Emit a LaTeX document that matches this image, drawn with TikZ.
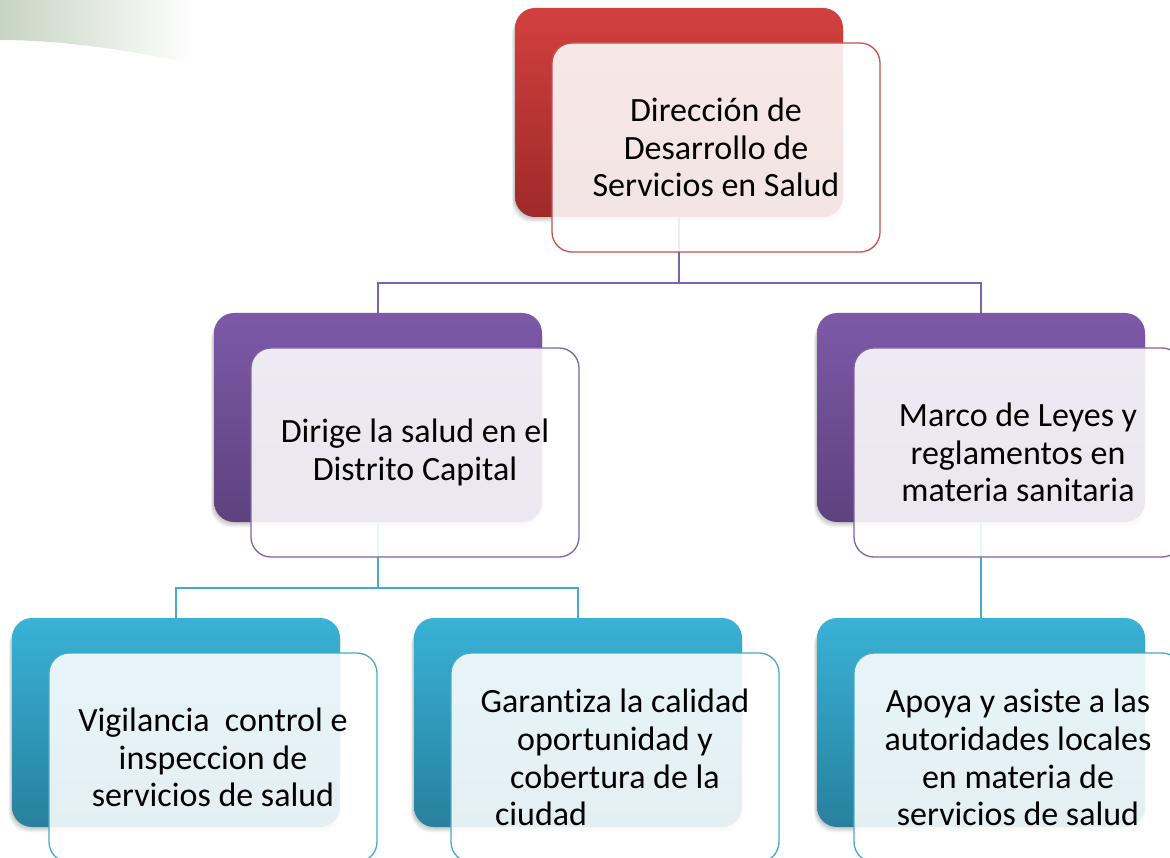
\documentclass[tikz,border=0pt]{standalone}
\usepackage{fontspec}
\setmainfont{Carlito}[Ligatures=NoCommon]
\definecolor{redT}{RGB}{210,64,62}
\definecolor{redB}{RGB}{158,42,42}
\definecolor{redL}{RGB}{200,78,76}
\definecolor{purT}{RGB}{125,89,168}
\definecolor{purB}{RGB}{94,66,126}
\definecolor{purL}{RGB}{128,98,168}
\definecolor{teaT}{RGB}{56,178,214}
\definecolor{teaB}{RGB}{40,128,158}
\definecolor{teaL}{RGB}{72,170,200}
\definecolor{swoosh}{RGB}{198,212,194}
\newcommand\softshadow[2]{%
  \foreach \s in {0,...,5}{%
    \fill[black,opacity=0.035,rounded corners=20pt]
      (#1-164-\s*0.4-1,#2-104.5+6) rectangle (#1+164+\s*0.4-1,#2+104.5+1+\s*0.9);
  }}
\begin{document}
\begin{tikzpicture}[x=1pt,y=-1pt,
  boxsize/.style={minimum width=328pt,minimum height=209pt,inner sep=0pt,rounded corners=20pt},
  backred/.style={boxsize,top color=redT,bottom color=redB},
  backpur/.style={boxsize,top color=purT,bottom color=purB},
  backtea/.style={boxsize,top color=teaT,bottom color=teaB},
  frontbox/.style={boxsize,fill=white,fill opacity=0.88,text opacity=1,line width=1.3pt,
    align=center,font=\fontsize{34}{37.7}\selectfont},
  frontred/.style={frontbox,draw=redL},
  frontpur/.style={frontbox,draw=purL},
  fronttea/.style={frontbox,draw=teaL},
  purline/.style={draw=purL,line width=1.6pt},
  tealine/.style={draw=teaL,line width=1.6pt}]
\useasboundingbox (0,0) rectangle (1170,858);
\fill[white] (0,0) rectangle (1170,858);
% green swoosh
\shade[left color=swoosh,right color=white]
  (0,0) -- (195,0) -- (195,64) .. controls (130,50) and (60,40) .. (0,40) -- cycle;
% shadows
\softshadow{679}{112.5}
\softshadow{378}{417.5}
\softshadow{981}{417.5}
\softshadow{176}{722.5}
\softshadow{578}{722.5}
\softshadow{981}{722.5}
% back boxes
\node[backred] (top) at (679,112.5) {};
\node[backpur] (pl) at (378,417.5) {};
\node[backpur] (pr) at (981,417.5) {};
\node[backtea] (tl) at (176,722.5) {};
\node[backtea] (tm) at (578,722.5) {};
\node[backtea] (tr) at (981,722.5) {};
% connectors
\draw[purline] (top.south) -- ++(0,66) -| (pl.north);
\draw[purline] (top.south) -- ++(0,66) -| (pr.north);
\draw[tealine] (pl.south) -- ++(0,66) -| (tl.north);
\draw[tealine] (pl.south) -- ++(0,66) -| (tm.north);
\draw[tealine] (pr.south) -- (tr.north);
% front boxes
\node[frontred] (ftop) at (716,147.5) {Dirección de\\Desarrollo de\\Servicios en Salud};
\node[frontpur] (fpl) at (415,452.5) {Dirige la salud en el\\Distrito Capital};
\node[frontpur] (fpr) at (1018,452.5) {Marco de Leyes y\\reglamentos en\\materia sanitaria};
\node[fronttea] (ftl) at (213,757.5) {Vigilancia\ \ control e\\inspeccion de\\servicios de salud};
\node[fronttea] (ftm) at (615,757.5) {Garantiza la calidad\\oportunidad y\\cobertura de la\\\makebox[240pt][l]{ciudad}};
\node[fronttea] (ftr) at (1018,757.5) {Apoya y asiste a las\\autoridades locales\\en materia de\\servicios de salud};
\end{tikzpicture}
\end{document}
